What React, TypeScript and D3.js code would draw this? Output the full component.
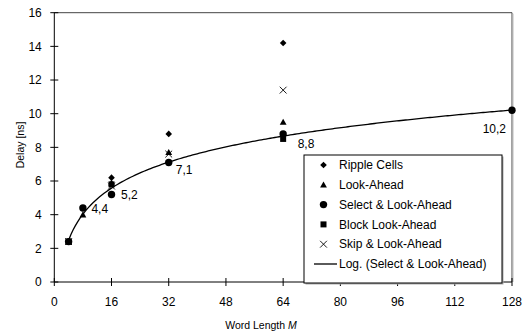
import React from "react";
import * as d3 from "d3";

const W = 527;
const H = 331;

const wordLengths = [4, 8, 16, 32, 64, 128];
const rippleCells: (number | null)[] = [2.4, null, 6.2, 8.8, 14.2, null];
const lookAhead: (number | null)[] = [2.4, 4.0, 5.9, 7.7, 9.5, null];
const selectLookAhead: (number | null)[] = [2.4, 4.4, 5.2, 7.1, 8.8, 10.2];
const blockLookAhead: (number | null)[] = [2.4, null, 5.8, null, 8.5, null];
const skipLookAhead: (number | null)[] = [2.4, null, 5.7, 7.6, 11.4, null];

const xTicks = [0, 16, 32, 48, 64, 80, 96, 112, 128];
const yTicks = [0, 2, 4, 6, 8, 10, 12, 14, 16];

const legendLabels = [
  "Ripple Cells",
  "Look-Ahead",
  "Select & Look-Ahead",
  "Block Look-Ahead",
  "Skip & Look-Ahead",
  "Log. (Select & Look-Ahead)",
];

// label offsets (layout) for Select & Look-Ahead data labels
const labelLayout: ([number, number, string] | null)[] = [
  null,
  [8.5, 1, "start"],
  [9.5, 0, "start"],
  [7, 7, "start"],
  [14.5, 10, "start"],
  [-6, 18, "end"],
];

const FONT = "'Liberation Sans', Arial, sans-serif";

type Shape = "diamond" | "triangle" | "circle" | "square" | "cross";

function Marker({ shape, cx, cy }: { shape: Shape; cx: number; cy: number }) {
  if (shape === "diamond") {
    const r = 3.3;
    return (
      <path
        d={`M${cx},${cy - r}L${cx + r},${cy}L${cx},${cy + r}L${cx - r},${cy}Z`}
        fill="#000"
      />
    );
  }
  if (shape === "triangle") {
    const r = 3.4;
    return (
      <path
        d={`M${cx},${cy - r}L${cx + r},${cy + r * 0.8}L${cx - r},${cy + r * 0.8}Z`}
        fill="#000"
      />
    );
  }
  if (shape === "circle") {
    return <circle cx={cx} cy={cy} r={3.7} fill="#000" />;
  }
  if (shape === "square") {
    const r = 3;
    return <rect x={cx - r} y={cy - r} width={2 * r} height={2 * r} fill="#000" />;
  }
  const r = 3.4;
  return (
    <path
      d={`M${cx - r},${cy - r}L${cx + r},${cy + r}M${cx - r},${cy + r}L${cx + r},${cy - r}`}
      stroke="#000"
      strokeWidth={0.9}
      fill="none"
    />
  );
}

export default function App() {
  const x = d3.scaleLinear().domain([0, 128]).range([54.3, 512]);
  const y = d3.scaleLinear().domain([0, 16]).range([282, 12.7]);

  const series: { values: (number | null)[]; shape: Shape }[] = [
    { values: rippleCells, shape: "diamond" },
    { values: lookAhead, shape: "triangle" },
    { values: blockLookAhead, shape: "square" },
    { values: skipLookAhead, shape: "cross" },
    { values: selectLookAhead, shape: "circle" },
  ];

  // logarithmic trend line (least squares on ln x) for Select & Look-Ahead
  const pts = wordLengths
    .map((w, i) => [Math.log(w), selectLookAhead[i]] as [number, number | null])
    .filter((p) => p[1] != null) as [number, number][];
  const mx = d3.mean(pts, (p) => p[0])!;
  const my = d3.mean(pts, (p) => p[1])!;
  const a =
    d3.sum(pts, (p) => (p[0] - mx) * (p[1] - my)) /
    d3.sum(pts, (p) => (p[0] - mx) * (p[0] - mx));
  const b = my - a * mx;
  const xMin = d3.min(wordLengths)!;
  const xMax = d3.max(wordLengths)!;
  const trendX = d3.range(0, 201).map((i) => xMin + ((xMax - xMin) * i) / 200);
  const trendLine = d3
    .line<number>()
    .x((v) => x(v))
    .y((v) => y(a * Math.log(v) + b));

  const x0 = x(0);
  const x1 = x(128);
  const y0 = y(0);
  const y1 = y(16);

  const legendX = 304;
  const legendY = 155;
  const legendW = 198;
  const legendH = 128;
  const rowY = (i: number) => 165 + i * 19.8;
  const legendShapes: (Shape | "line")[] = [
    "diamond",
    "triangle",
    "circle",
    "square",
    "cross",
    "line",
  ];

  return (
    <svg
      width={W}
      height={H}
      style={{ position: "absolute", left: 0, top: 0, background: "#fff" }}
      fontFamily={FONT}
    >
      <rect x={0} y={0} width={W} height={H} fill="#fff" />
      {/* plot border */}
      <line x1={x0} y1={y1} x2={x1} y2={y1} stroke="#444" strokeWidth={1} />
      <line x1={x1} y1={y1} x2={x1} y2={y0} stroke="#444" strokeWidth={1} />
      <line x1={x1 + 1} y1={y1 + 1} x2={x1 + 1} y2={y0} stroke="#bbb" strokeWidth={1} />

      {/* axes */}
      <line x1={x0} y1={y1} x2={x0} y2={y0} stroke="#000" strokeWidth={1} />
      <line x1={x0} y1={y0} x2={x1} y2={y0} stroke="#000" strokeWidth={1} />
      {yTicks.map((t) => (
        <g key={"y" + t}>
          <line x1={x0 - 4} x2={x0 + 4} y1={y(t)} y2={y(t)} stroke="#000" />
          <text
            x={x0 - 12.5}
            y={y(t)}
            dy="0.35em"
            textAnchor="end"
            fontSize={12}
            fill="#000"
          >
            {t}
          </text>
        </g>
      ))}
      {xTicks.map((t) => (
        <g key={"x" + t}>
          <line x1={x(t)} x2={x(t)} y1={y0 - 4} y2={y0 + 4} stroke="#000" />
          <text
            x={x(t)}
            y={y0 + 20}
            dy="0.35em"
            textAnchor="middle"
            fontSize={12}
            fill="#000"
          >
            {t}
          </text>
        </g>
      ))}

      {/* axis titles */}
      <text x={261} y={325} dy="0.35em" textAnchor="middle" fontSize={10.5} fill="#000">
        Word Length <tspan fontStyle="italic">M</tspan>
      </text>
      <text
        transform={`translate(20,145) rotate(-90)`}
        dy="0.35em"
        textAnchor="middle"
        fontSize={10.5}
        fill="#000"
      >
        Delay [ns]
      </text>

      {/* trend line */}
      <path d={trendLine(trendX) ?? ""} fill="none" stroke="#000" strokeWidth={1.3} />

      {/* markers */}
      {series.map((s, si) =>
        s.values.map((v, i) =>
          v == null ? null : (
            <Marker key={si + "-" + i} shape={s.shape} cx={x(wordLengths[i])} cy={y(v)} />
          )
        )
      )}

      {/* data labels */}
      {selectLookAhead.map((v, i) => {
        const l = labelLayout[i];
        if (v == null || !l) return null;
        return (
          <text
            key={"lab" + i}
            x={x(wordLengths[i]) + l[0]}
            y={y(v) + l[1]}
            dy="0.35em"
            textAnchor={l[2] as any}
            fontSize={12}
            fill="#000"
          >
            {v.toFixed(1).replace(".", ",")}
          </text>
        );
      })}

      {/* legend */}
      <rect x={legendX + 1.5} y={legendY + 1.5} width={legendW} height={legendH} fill="#aaa" />
      <rect x={legendX} y={legendY} width={legendW} height={legendH} fill="#fff" stroke="#000" strokeWidth={1} />
      {legendLabels.map((lab, i) => {
        const shp = legendShapes[i];
        return (
          <g key={"leg" + i}>
            {shp === "line" ? (
              <line x1={314} x2={337} y1={rowY(i)} y2={rowY(i)} stroke="#000" strokeWidth={1.3} />
            ) : (
              <Marker shape={shp} cx={323.5} cy={rowY(i)} />
            )}
            <text x={339} y={rowY(i)} dy="0.35em" fontSize={12} fill="#000">
              {lab}
            </text>
          </g>
        );
      })}
    </svg>
  );
}
